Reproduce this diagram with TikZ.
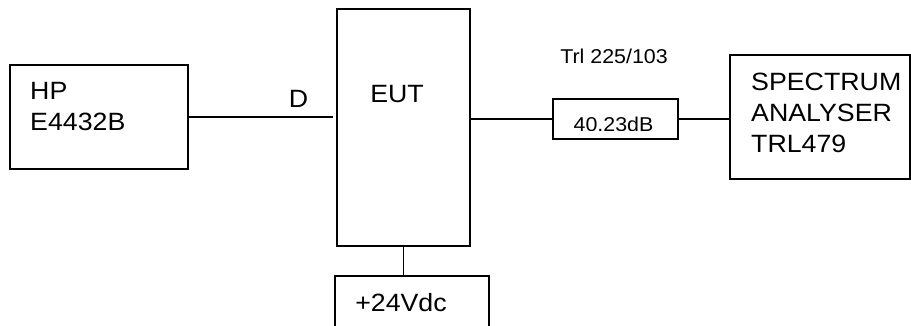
\documentclass[tikz,border=0pt]{standalone}
\usepackage{fontspec}
\setmainfont{Liberation Sans}[FakeStretch=1.07]
\usetikzlibrary{positioning}

\begin{document}
\begin{tikzpicture}[
    x=1pt, y=-1pt,
    box/.style={draw, line width=1.4pt, rectangle, inner sep=0pt},
    wire/.style={line width=1.4pt},
    lbl/.style={inner sep=0pt, font=\fontsize{25}{31}\selectfont, align=left},
    small/.style={inner sep=0pt, font=\fontsize{20}{24}\selectfont}
]
\useasboundingbox (0,0) rectangle (911,325);
\clip (0,0) rectangle (911,325);

% Boxes
\node[box, minimum width=178pt, minimum height=104pt] (hp) at (99,117) {};
\node[box, minimum width=133pt, minimum height=237pt] (eut) at (403.5,127.5) {};
\node[box, minimum width=154pt, minimum height=70pt] (supply) at (412,311) {};
\node[box, minimum width=125pt, minimum height=40pt] (atten) at (615.5,119) {};
\node[box, minimum width=180pt, minimum height=124pt] (sa) at (820,117) {};

% Texts
\node[lbl, anchor=west] (hptxt) at (30,106.5) {HP\\E4432B};
\node[lbl] (dtxt) at (298.5,98.5) {D};
\node[lbl] (euttxt) at (397,94) {EUT};
\node[lbl] (supplytxt) at (401,303) {+24Vdc};
\node[small] (trl) at (614,56) {Trl 225/103};
\node[lbl, anchor=west] (satxt) at (751,112.5) {SPECTRUM\\ANALYSER\\TRL479};
\begin{scope}
\clip (553,99) rectangle (678,130);
\node[small, anchor=base] (atttxt) at (613.5,131.3) {40.23dB};
\end{scope}

% Connections
\draw[wire, shorten >=3pt] (hp.east) -- (hp.east -| eut.west);
\draw[wire] (eut.east |- atten.west) -- (atten.west);
\draw[wire] (atten.east) -- (sa.west |- atten.east);
\draw[wire] (eut.south) -- (eut.south |- supply.north);
\end{tikzpicture}
\end{document}
